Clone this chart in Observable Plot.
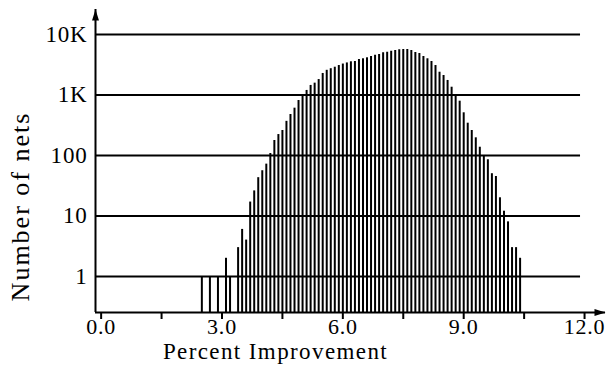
<!DOCTYPE html>
<html><head><meta charset="utf-8">
<script src="https://cdn.jsdelivr.net/npm/d3@7"></script>
<script src="https://cdn.jsdelivr.net/npm/@observablehq/plot@0.6"></script>
<style>body{margin:0;background:#fff} svg{display:block}</style>
</head><body><div id="chart"></div>
<script>
const improvement = [2.5, 2.7, 2.9, 3.1, 3.2, 3.4, 3.5, 3.6, 3.7, 3.8, 3.9,
  4.0, 4.1, 4.2, 4.3, 4.4, 4.5, 4.6, 4.7, 4.8, 4.9,
  5.0, 5.1, 5.2, 5.3, 5.4, 5.5, 5.6, 5.7, 5.8, 5.9,
  6.0, 6.1, 6.2, 6.3, 6.4, 6.5, 6.6, 6.7, 6.8, 6.9,
  7.0, 7.1, 7.2, 7.3, 7.4, 7.5, 7.6, 7.7, 7.8, 7.9,
  8.0, 8.1, 8.2, 8.3, 8.4, 8.5, 8.6, 8.7, 8.8, 8.9,
  9.0, 9.1, 9.2, 9.3, 9.4, 9.5, 9.6, 9.7, 9.8, 9.9,
  10.0, 10.1, 10.2, 10.3, 10.4];
const nets = [1, 1, 1, 2, 1, 3, 6, 4, 17, 26, 43,
  56, 72, 108, 177, 222, 259, 367, 476, 606, 811,
  960, 1190, 1440, 1570, 1800, 2270, 2560, 2720, 2880, 3070,
  3250, 3390, 3540, 3580, 3860, 3970, 4120, 4330, 4550, 4670,
  4980, 5100, 5300, 5440, 5590, 5650, 5650, 5440, 5040, 4850,
  4330, 3970, 3580, 3070, 2380, 2100, 1740, 1345, 982, 790,
  508, 342, 259, 196, 137, 100, 85, 50, 45, 20,
  12, 8, 3, 3, 2];
const yTickValues = [1, 10, 100, 1000, 10000];
const yTickLabels = ["1", "10", "100", "1K", "10K"];
const xTickValues = [0, 1.5, 3, 4.5, 6, 7.5, 9, 10.5, 12];
const xTickLabels = ["0.0", "", "3.0", "", "6.0", "", "9.0", "", "12.0"];
const xLabel = "Percent Improvement";
const yLabel = "Number of nets";

const data = improvement.map((x, i) => ({x, n: nets[i]}));
const X_MIN = -0.14, X_MAX = 12.52, GRID_END = 11.9;
const Y_MIN = 0.254, Y_MAX = 25900;
const FONT = "'Liberation Serif', 'Times New Roman', serif";
const FS = 23;
const TFS = 22;

const arrowHead = {draw(ctx) { ctx.moveTo(0, 0); ctx.lineTo(-3.5, 11); ctx.lineTo(3.5, 11); ctx.closePath(); }};

const chart = Plot.plot({
  width: 609, height: 365,
  marginLeft: 95, marginRight: 4, marginTop: 9, marginBottom: 53,
  style: {fontFamily: FONT, fontSize: FS + "px", color: "#000", background: "#fff"},
  x: {domain: [X_MIN, X_MAX], label: null},
  y: {type: "log", domain: [Y_MIN, Y_MAX], label: null},
  marks: [
    Plot.ruleY(yTickValues, {x1: X_MIN, x2: GRID_END, stroke: "#000", strokeWidth: 2}),
    Plot.ruleX(data, {x: "x", y1: Y_MIN, y2: "n", stroke: "#000", strokeWidth: 2}),
    Plot.ruleX([X_MIN], {stroke: "#000", strokeWidth: 2}),
    Plot.ruleY([Y_MIN], {stroke: "#000", strokeWidth: 2}),
    Plot.axisY(yTickValues, {tickSize: 0, tickPadding: 8, fontSize: FS, label: null,
      tickFormat: d => yTickLabels[yTickValues.indexOf(d)]}),
    Plot.axisX(xTickValues, {tickSize: 7, tickPadding: -1, strokeWidth: 2, fontSize: TFS, label: null,
      tickFormat: d => xTickLabels[xTickValues.indexOf(d)]}),
    Plot.dot([0], {frameAnchor: "top-left", symbol: arrowHead, fill: "#000", stroke: "none", r: 3}),
    Plot.dot([0], {frameAnchor: "bottom-right", symbol: arrowHead, fill: "#000", stroke: "none", r: 3, rotate: 90}),
    Plot.text([xLabel], {frameAnchor: "bottom-left", dx: 180, dy: 46.5, textAnchor: "middle", fontSize: FS, text: d => d}),
    Plot.text([yLabel], {frameAnchor: "top-left", dx: -85, dy: 197, rotate: -90, textAnchor: "middle", fontSize: 26, text: d => d})
  ]
});
d3.select(chart).selectAll("text").each(function() {
  const t = this.textContent;
  if (t === xLabel) this.style.letterSpacing = "1.4px";
  else if (t === yLabel) this.style.letterSpacing = "2px";
  else this.style.letterSpacing = "0.8px";
});
document.getElementById("chart").appendChild(chart);
</script>
</body></html>
